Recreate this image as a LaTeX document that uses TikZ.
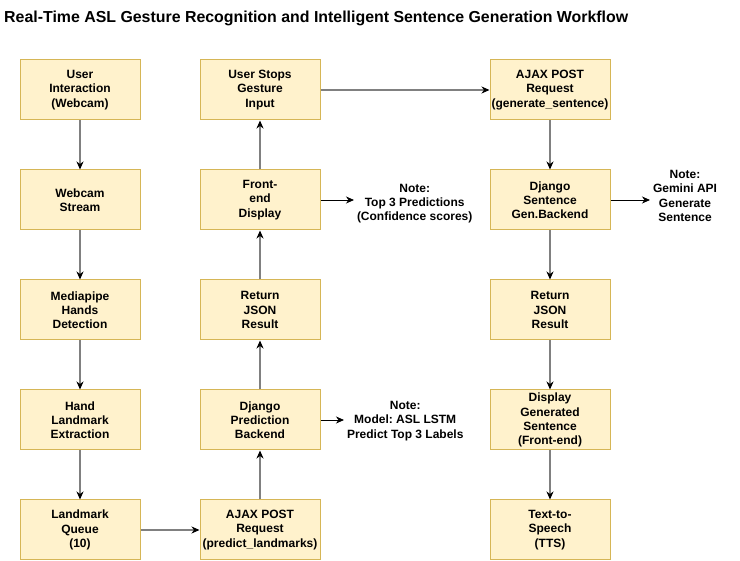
\documentclass[tikz,border=0pt]{standalone}
\usepackage{fontspec}
\setmainfont{Liberation Sans}
\usetikzlibrary{positioning}
\usetikzlibrary{arrows.meta}
\frenchspacing
\definecolor{boxfill}{HTML}{FFF2CC}
\definecolor{boxline}{HTML}{D6B656}
\definecolor{flowgray}{HTML}{808080}
\tikzset{
        every node/.style={align=center,font=\fontsize{12}{14.2}\selectfont\bfseries},
        stage/.style={draw=boxline,fill=boxfill,line width=1pt,minimum width=120pt,minimum height=60pt,inner sep=0pt},
        flow/.style={draw=flowgray,line width=1.8pt,-{Stealth[black,length=8pt,width=7pt,inset=2.5pt]}},
        notearrow/.style={draw=black,line width=0.9pt,-{Stealth[length=8pt,width=7pt,inset=2.5pt]}},
        note/.style={anchor=west,inner sep=0pt,outer sep=3pt},
        }

\begin{document}
\begin{tikzpicture}[x=1pt,y=-1pt]
					\useasboundingbox (0,0) rectangle (740,561);

					% title.....................
					\node [anchor=west,inner sep=0pt,font=\fontsize{15.9}{19}\selectfont\bfseries] (title) at (4,18) {Real-Time ASL Gesture Recognition and Intelligent Sentence Generation Workflow};

					% capture column...................
					\node [stage] (user) at (80,90) {User\\Interaction\\(Webcam)};
					\node [stage] (stream) at (80,200) {Webcam\\Stream};
					\node [stage] (hands) at (80,310) {Mediapipe\\Hands\\Detection};
					\node [stage] (extract) at (80,420) {Hand\\Landmark\\Extraction};
					\node [stage] (queue) at (80,530) {Landmark\\Queue\\(10)};

					% prediction column...................
					\node [stage] (predpost) at (260,530) {AJAX POST\\Request\\(predict\_landmarks)};
					\node [stage] (predback) at (260,420) {Django\\Prediction\\Backend};
					\node [stage] (predjson) at (260,310) {Return\\JSON\\Result};
					\node [stage] (display) at (260,200) {Front-\\end\\Display};
					\node [stage] (stop) at (260,90) {User Stops\\Gesture\\Input};

					% sentence column...................
					\node [stage] (genpost) at (550,90) {AJAX POST\\Request\\(generate\_sentence)};
					\node [stage] (genback) at (550,200) {Django\\Sentence\\Gen.Backend};
					\node [stage] (genjson) at (550,310) {Return\\JSON\\Result};
					\node [stage] (show) at (550,420) {Display\\Generated\\Sentence\\(Front-end)};
					\node [stage] (tts) at (550,530) {Text-to-\\Speech\\(TTS)};

					% notes..............................
					\node [note] (topnote) at (354,203.5) {Note:\\Top 3 Predictions\\(Confidence scores)};
					\node [note] (modelnote) at (344,421) {Note:\\Model: ASL LSTM\\Predict Top 3 Labels};
					\node [note] (geminote) at (650,196) {Note:\\Gemini API\\Generate\\Sentence};

					% main flow.............
					\draw [flow] (user) -- (stream);
					\draw [flow] (stream) -- (hands);
					\draw [flow] (hands) -- (extract);
					\draw [flow] (extract) -- (queue);
					\draw [flow] (queue) -- (predpost);
					\draw [flow] (predpost) -- (predback);
					\draw [flow] (predback) -- (predjson);
					\draw [flow] (predjson) -- (display);
					\draw [flow] (display) -- (stop);
					\draw [flow] (stop) -- (genpost);
					\draw [flow] (genpost) -- (genback);
					\draw [flow] (genback) -- (genjson);
					\draw [flow] (genjson) -- (show);
					\draw [flow] (show) -- (tts);

					% note arrows.........
					\draw [notearrow] (display.east) -- (display.east -| topnote.west);
					\draw [notearrow] (predback.east) -- (predback.east -| modelnote.west);
					\draw [notearrow] (genback.east) -- (genback.east -| geminote.west);
				\end{tikzpicture}
\end{document}
